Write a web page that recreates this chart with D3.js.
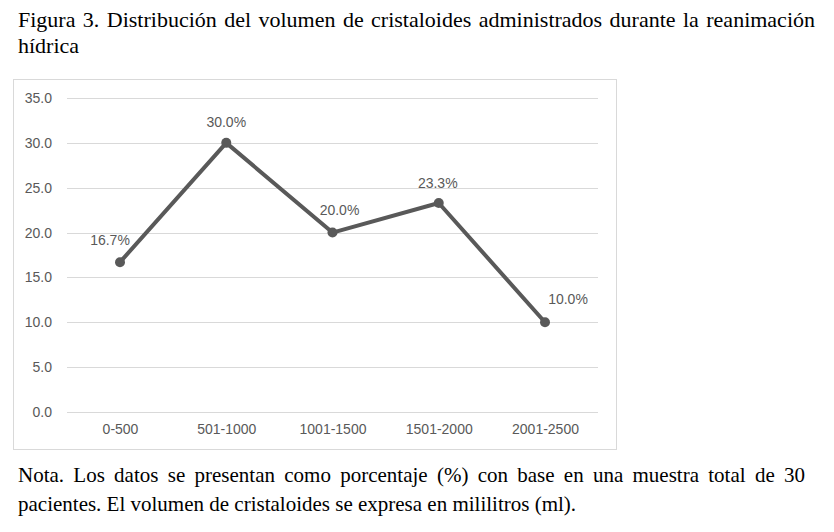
<!DOCTYPE html>
<html>
<head>
<meta charset="utf-8">
<script src="https://cdn.jsdelivr.net/npm/d3@7"></script>
<style>
  body { margin: 0; background: #fff; }
  svg { display: block; }
</style>
</head>
<body>
<svg id="chart" width="834" height="532"></svg>
<script>
// data
var categories = ["0-500", "501-1000", "1001-1500", "1501-2000", "2001-2500"];
var values = [16.7, 30.0, 20.0, 23.3, 10.0];
var yTicks = [0, 5, 10, 15, 20, 25, 30, 35];

var titleLines = [
  "Figura 3. Distribución del volumen de cristaloides administrados durante la reanimación",
  "hídrica"
];
var noteLines = [
  "Nota. Los datos se presentan como porcentaje (%) con base en una muestra total de 30",
  "pacientes. El volumen de cristaloides se expresa en mililitros (ml)."
];

// small label nudges so the labels sit where the original put them
var labelNudge = [[-10, -22], [0, -21], [7, -23], [-1, -20], [23, -23]];

var svg = d3.select("#chart");
var grey = "#595959";

// caption text, justified lines like the document
function writeLines(lines, x, y0, lh, width, size) {
  lines.forEach(function (line, i) {
    var t = svg.append("text")
      .attr("x", x)
      .attr("y", y0 + i * lh)
      .attr("font-family", "'Liberation Serif', 'Times New Roman', serif")
      .attr("font-size", size)
      .attr("fill", "#000")
      .text(line);
    if (i < lines.length - 1) {
      var gaps = line.split(" ").length - 1;
      var extra = (width - t.node().getComputedTextLength()) / gaps;
      t.attr("word-spacing", extra);
    }
  });
}

writeLines(titleLines, 18, 27, 26, 797, 22);
writeLines(noteLines, 18, 482, 29, 787, 21);

// chart frame
svg.append("rect")
  .attr("x", 13.5).attr("y", 79.5)
  .attr("width", 603).attr("height", 370)
  .attr("fill", "#fff")
  .attr("stroke", "#d9d9d9");

var x = d3.scalePoint().domain(categories).range([120, 545]);
var y = d3.scaleLinear().domain([0, 35]).range([412, 98]);

// gridlines
svg.append("g").selectAll("line").data(yTicks).enter().append("line")
  .attr("x1", 67).attr("x2", 598)
  .attr("y1", function (d) { return Math.round(y(d)) + 0.5; })
  .attr("y2", function (d) { return Math.round(y(d)) + 0.5; })
  .attr("stroke", "#d9d9d9")
  .attr("stroke-width", 1);

// y axis labels
var yAxis = d3.axisLeft(y).tickValues(yTicks).tickSize(0).tickPadding(0)
  .tickFormat(d3.format(".1f"));
svg.append("g")
  .attr("transform", "translate(52,0)")
  .call(yAxis)
  .call(function (g) { g.select(".domain").remove(); })
  .selectAll("text")
  .attr("font-family", "'Liberation Sans', Arial, sans-serif")
  .attr("font-size", 14)
  .attr("fill", grey);

// x axis labels
var xAxis = d3.axisBottom(x).tickSize(0).tickPadding(0);
svg.append("g")
  .attr("transform", "translate(0,424)")
  .call(xAxis)
  .call(function (g) { g.select(".domain").remove(); })
  .selectAll("text")
  .attr("font-family", "'Liberation Sans', Arial, sans-serif")
  .attr("font-size", 14)
  .attr("fill", grey);

// the line
var line = d3.line()
  .x(function (d, i) { return x(categories[i]); })
  .y(function (d) { return y(d); });

svg.append("path")
  .datum(values)
  .attr("d", line)
  .attr("fill", "none")
  .attr("stroke", grey)
  .attr("stroke-width", 4)
  .attr("stroke-linejoin", "round");

svg.append("g").selectAll("circle").data(values).enter().append("circle")
  .attr("cx", function (d, i) { return x(categories[i]); })
  .attr("cy", function (d) { return y(d); })
  .attr("r", 5)
  .attr("fill", grey);

// value labels
svg.append("g").selectAll("text").data(values).enter().append("text")
  .attr("x", function (d, i) { return x(categories[i]) + labelNudge[i][0]; })
  .attr("y", function (d, i) { return y(d) + labelNudge[i][1] + 5; })
  .attr("text-anchor", "middle")
  .attr("font-family", "'Liberation Sans', Arial, sans-serif")
  .attr("font-size", 14)
  .attr("fill", grey)
  .text(function (d) { return d.toFixed(1) + "%"; });
</script>
</body>
</html>
